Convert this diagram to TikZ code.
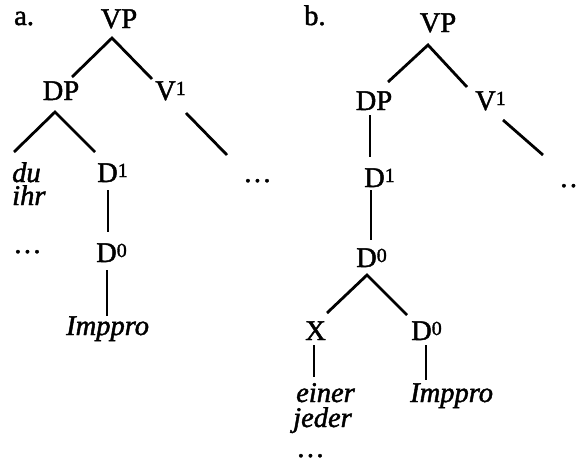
\documentclass[tikz,border=0pt]{standalone}
\usepackage{fontspec}
\setmainfont{Liberation Serif}[RawFeature={embolden=1.6}]
% category label with a raised bar-level index (D^1, V^1, D^0)
\newcommand{\barlvl}[2]{#1\raisebox{5pt}{\fontsize{20}{20}\selectfont #2}}
\begin{document}
\begin{tikzpicture}[x=1pt,y=-1pt,
  lbl/.style={inner sep=0pt,font=\fontsize{28.5}{30}\selectfont},
  word/.style={lbl,font=\fontsize{28.5}{30}\selectfont\itshape},
  branch/.style={line width=2.8pt}]
\useasboundingbox (0,0) rectangle (581,466);

% ---------------- tree (a) ----------------
\node[lbl,anchor=base west] (taga) at (14,25) {a.};
\node[lbl,anchor=base] (VPa) at (119,28) {VP};
\node[lbl,anchor=base] (DPa) at (61,100) {DP};
\node[lbl,anchor=base west] (V1a) at (155,100) {\barlvl{V}{1}};
\node[word,anchor=base west] (dua) at (12,182) {du};
\node[word,anchor=base west] (ihra) at (12,205) {ihr};
\node[lbl,anchor=base west] (dotsla) at (13,253) {\dots};
\node[lbl,anchor=base west] (D1a) at (97,182) {\barlvl{D}{1}};
\node[lbl,anchor=base west] (dotsra) at (243,182) {\dots};
\node[lbl,anchor=base west] (D0a) at (96,262) {\barlvl{D}{0}};
\node[word,anchor=base west] (Impa) at (66,335) {Imppro};

\coordinate (VPa-t) at (112,38);
\coordinate (DPa-t) at (72,77);
\coordinate (V1a-t) at (152,79);
\coordinate (DPa-b) at (55,112);
\coordinate (dua-t) at (14,152);
\coordinate (D1a-t) at (95,152);
\coordinate (V1a-b) at (186,113);
\coordinate (dotsra-t) at (227,155);
\coordinate (D1a-b) at (108,190);
\coordinate (D0a-t) at (108,232);
\coordinate (D0a-b) at (107,270);
\coordinate (Impa-t) at (107,316);

\draw[branch] (DPa-t) -- (VPa-t) -- (V1a-t);
\draw[branch] (dua-t) -- (DPa-b) -- (D1a-t);
\draw[branch] (V1a-b) -- (dotsra-t);
\draw[branch] (D1a-b) -- (D0a-t);
\draw[branch] (D0a-b) -- (Impa-t);

% ---------------- tree (b) ----------------
\node[lbl,anchor=base west] (tagb) at (304,25) {b.};
\node[lbl,anchor=base] (VPb) at (438,32) {VP};
\node[lbl,anchor=base] (DPb) at (374,110) {DP};
\node[lbl,anchor=base west] (V1b) at (475,110) {\barlvl{V}{1}};
\node[lbl,anchor=base west] (D1b) at (364,187) {\barlvl{D}{1}};
\node[lbl,anchor=base west] (dotsrb) at (559,187) {\dots};
\node[lbl,anchor=base west] (D0b) at (356,267) {\barlvl{D}{0}};
\node[lbl,anchor=base west] (Xb) at (305,340) {X};
\node[lbl,anchor=base west] (D0rb) at (411,340) {\barlvl{D}{0}};
\node[word,anchor=base west] (einb) at (296,402) {einer};
\node[word,anchor=base west] (jedb) at (293,427) {jeder};
\node[lbl,anchor=base west] (dotsb) at (296,457) {\dots};
\node[word,anchor=base west] (Impb) at (410,402) {Imppro};

\coordinate (VPb-t) at (428,45);
\coordinate (DPb-t) at (388,82);
\coordinate (V1b-t) at (467,87);
\coordinate (DPb-b) at (370,115);
\coordinate (D1b-t) at (370,157);
\coordinate (V1b-b) at (503,120);
\coordinate (dotsrb-t) at (543,155);
\coordinate (D1b-b) at (371,190);
\coordinate (D0b-t) at (371,240);
\coordinate (D0b-b) at (367,275);
\coordinate (Xb-t) at (327,313);
\coordinate (D0rb-t) at (407,315);
\coordinate (Xb-b) at (314,345);
\coordinate (einb-t) at (314,377);
\coordinate (D0rb-b) at (426,345);
\coordinate (Impb-t) at (426,380);

\draw[branch] (DPb-t) -- (VPb-t) -- (V1b-t);
\draw[branch] (DPb-b) -- (D1b-t);
\draw[branch] (V1b-b) -- (dotsrb-t);
\draw[branch] (D1b-b) -- (D0b-t);
\draw[branch] (Xb-t) -- (D0b-b) -- (D0rb-t);
\draw[branch] (Xb-b) -- (einb-t);
\draw[branch] (D0rb-b) -- (Impb-t);
\end{tikzpicture}
\end{document}
